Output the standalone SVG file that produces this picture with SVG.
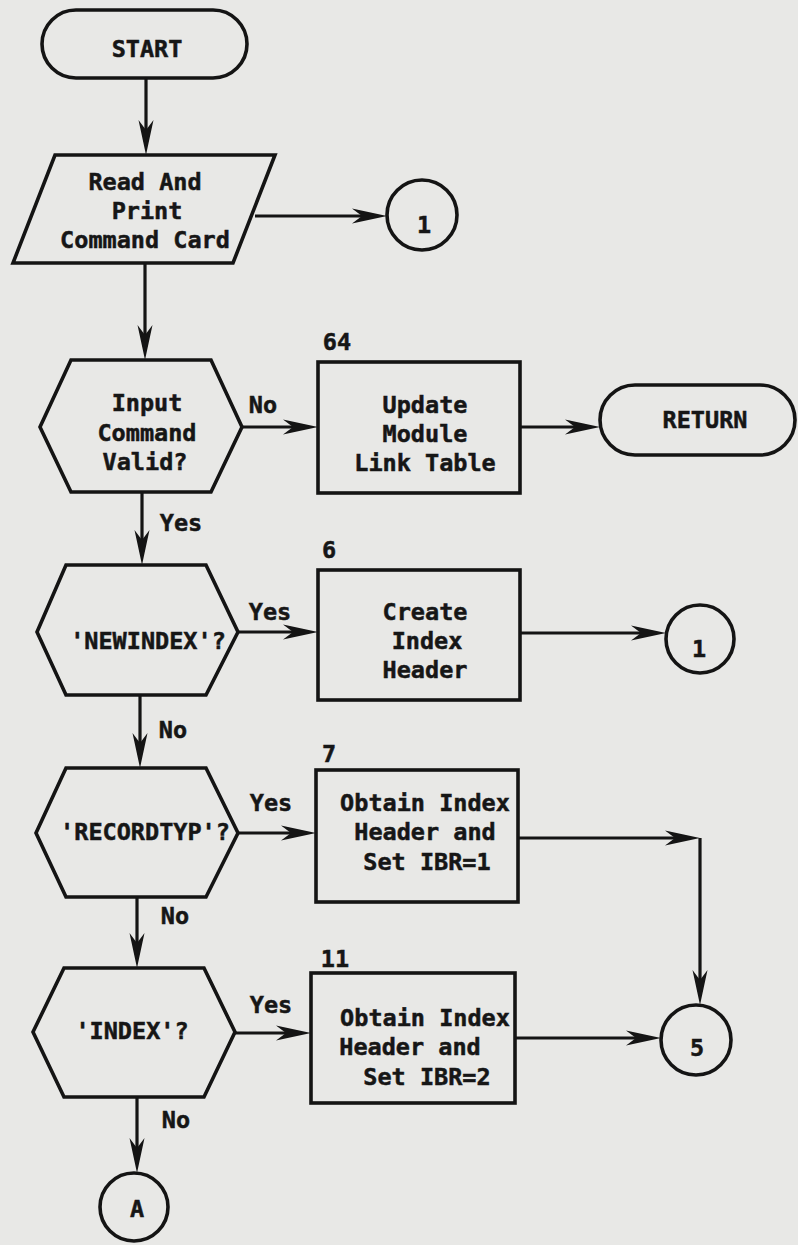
<svg xmlns="http://www.w3.org/2000/svg" width="798" height="1245" viewBox="0 0 798 1245">
<style>
.sh{fill:none;stroke:#141414;stroke-width:3.6;stroke-linejoin:miter}
.ln{fill:none;stroke:#141414;stroke-width:3.2}
.t{font-family:"DejaVu Sans Mono","Liberation Mono",monospace;font-weight:bold;font-size:23.5px;fill:#161616;stroke:#161616;stroke-width:0.5;text-anchor:middle}
</style>
<defs>
<marker id="ah" viewBox="-36 -9 38 18" refX="-12" refY="0" markerWidth="38" markerHeight="18" markerUnits="userSpaceOnUse" orient="auto">
<path d="M0,0 L-35,-7.5 L-25,0 L-35,7.5 Z" fill="#141414"/>
</marker>
</defs>
<rect x="0" y="0" width="798" height="1245" fill="#e8e8e6"/>
<g id="connectors">
<path class="ln" d="M146,78 V143" marker-end="url(#ah)"/>
<path class="ln" d="M255,216 H375" marker-end="url(#ah)"/>
<path class="ln" d="M145,263 V348" marker-end="url(#ah)"/>
<path class="ln" d="M242,427 H306" marker-end="url(#ah)"/>
<path class="ln" d="M520,427 H588" marker-end="url(#ah)"/>
<path class="ln" d="M142,492 V553" marker-end="url(#ah)"/>
<path class="ln" d="M238,632 H306" marker-end="url(#ah)"/>
<path class="ln" d="M520,633 H654" marker-end="url(#ah)"/>
<path class="ln" d="M140,695 V756" marker-end="url(#ah)"/>
<path class="ln" d="M238,833 H304" marker-end="url(#ah)"/>
<path class="ln" d="M518,838 H688" marker-end="url(#ah)"/>
<path class="ln" d="M700,838 V993" marker-end="url(#ah)"/>
<path class="ln" d="M137,897 V956" marker-end="url(#ah)"/>
<path class="ln" d="M235,1033 H299" marker-end="url(#ah)"/>
<path class="ln" d="M515,1038 H649" marker-end="url(#ah)"/>
<path class="ln" d="M137,1097 V1161" marker-end="url(#ah)"/>
<text class="t" x="263" y="413">No</text>
<text class="t" x="181" y="531">Yes</text>
<text class="t" x="270" y="620">Yes</text>
<text class="t" x="173" y="738">No</text>
<text class="t" x="271" y="811">Yes</text>
<text class="t" x="175" y="924">No</text>
<text class="t" x="271" y="1013">Yes</text>
<text class="t" x="176" y="1128">No</text>
</g>
<g id="start">
<rect class="sh" x="42" y="10" width="205" height="68" rx="34"/>
<text class="t" x="147" y="57">START</text>
</g>
<g id="read">
<polygon class="sh" points="55,155 275,155 233,263 13,263"/>
<text class="t" x="145" y="190">Read And</text>
<text class="t" x="147" y="219">Print</text>
<text class="t" x="145" y="248">Command Card</text>
</g>
<g id="c1a">
<circle class="sh" cx="422" cy="215" r="35"/>
<text class="t" x="424" y="233">1</text>
</g>
<g id="valid">
<polygon class="sh" points="71,360 211,360 242,427 211,492 71,492 40,427"/>
<text class="t" x="147" y="411">Input</text>
<text class="t" x="147" y="441">Command</text>
<text class="t" x="145" y="470">Valid?</text>
</g>
<g id="update">
<rect class="sh" x="318" y="362" width="202" height="131"/>
<text class="t" x="337" y="350">64</text>
<text class="t" x="425" y="413">Update</text>
<text class="t" x="425" y="442">Module</text>
<text class="t" x="425" y="471">Link Table</text>
</g>
<g id="return">
<rect class="sh" x="600" y="385" width="195" height="70" rx="35"/>
<text class="t" x="705" y="428">RETURN</text>
</g>
<g id="newindex">
<polygon class="sh" points="66,565 206,565 238,632 206,695 66,695 37,632"/>
<text class="t" x="148" y="649">'NEWINDEX'?</text>
</g>
<g id="create">
<rect class="sh" x="318" y="570" width="202" height="130"/>
<text class="t" x="329" y="558">6</text>
<text class="t" x="425" y="620">Create</text>
<text class="t" x="427" y="649">Index</text>
<text class="t" x="425" y="678">Header</text>
</g>
<g id="c1b">
<circle class="sh" cx="700" cy="639" r="34"/>
<text class="t" x="699" y="657">1</text>
</g>
<g id="recordtyp">
<polygon class="sh" points="66,768 206,768 238,833 206,897 66,897 36,833"/>
<text class="t" x="145" y="840">'RECORDTYP'?</text>
</g>
<g id="obtain1">
<rect class="sh" x="316" y="770" width="202" height="132"/>
<text class="t" x="329" y="762">7</text>
<text class="t" x="425" y="811">Obtain Index</text>
<text class="t" x="425" y="840">Header and</text>
<text class="t" x="427" y="870">Set IBR=1</text>
</g>
<g id="index">
<polygon class="sh" points="64,968 204,968 235,1032 204,1097 64,1097 33,1032"/>
<text class="t" x="132" y="1039">'INDEX'?</text>
</g>
<g id="obtain2">
<rect class="sh" x="311" y="973" width="204" height="130"/>
<text class="t" x="335" y="967">11</text>
<text class="t" x="425" y="1026">Obtain Index</text>
<text class="t" x="410" y="1055">Header and</text>
<text class="t" x="427" y="1085">Set IBR=2</text>
</g>
<g id="c5">
<circle class="sh" cx="696" cy="1040" r="35"/>
<text class="t" x="697" y="1056">5</text>
</g>
<g id="cA">
<circle class="sh" cx="134" cy="1207" r="34"/>
<text class="t" x="137" y="1217">A</text>
</g>
</svg>
